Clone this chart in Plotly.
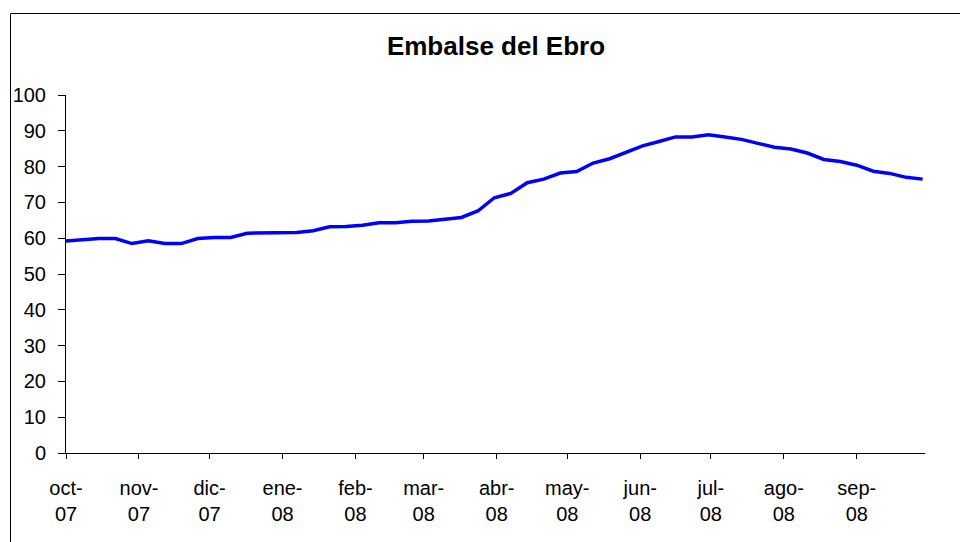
import plotly.graph_objects as go
import pandas as pd

title_text = "Embalse del Ebro"

# weekly observation dates (Oct 2007 - Sep 2008)
week_dates = pd.date_range("2007-10-01", periods=53, freq="7D")

reservoir_pct = [
    59.2, 59.5, 59.9, 59.9, 58.5, 59.3, 58.5, 58.5, 59.9, 60.2,
    60.2, 61.4, 61.4, 61.4, 61.6, 62.1, 63.2, 63.3, 63.6, 64.3,
    64.3, 64.7, 64.8, 65.3, 65.8, 67.6, 71.3, 72.5, 75.5, 76.5,
    78.2, 78.6, 81.0, 82.2, 83.9, 85.8, 87.0, 88.3, 88.3, 88.9,
    88.3, 87.6, 86.5, 85.4, 84.9, 83.8, 82.0, 81.4, 80.4, 78.7,
    78.1, 77.0, 76.5,
]

month_ticks = ["2007-10-01", "2007-11-01", "2007-12-01", "2008-01-01",
               "2008-02-01", "2008-03-01", "2008-04-01", "2008-05-01",
               "2008-06-01", "2008-07-01", "2008-08-01", "2008-09-01"]
month_labels = ["oct-<br>07", "nov-<br>07", "dic-<br>07", "ene-<br>08",
                "feb-<br>08", "mar-<br>08", "abr-<br>08", "may-<br>08",
                "jun-<br>08", "jul-<br>08", "ago-<br>08", "sep-<br>08"]

# page has an 8px body margin, so figure coordinates = screen - 8
OFF = 8
W, H = 968, 542
ml, mr, mt, mb = 66 - OFF, 968 - (925 - OFF), 95 - OFF, H - (453 - OFF)
pw, ph = W - ml - mr, H - mt - mb

def px_x(p):  # screen px -> paper
    return (p - OFF - ml) / pw

def px_y(p):
    return (H - mb - (p - OFF)) / ph

fig = go.Figure()
fig.add_trace(go.Scatter(
    x=week_dates, y=reservoir_pct, mode="lines",
    line=dict(color="#0000FF", width=3.5),
    showlegend=False, hoverinfo="x+y",
))

font_family = "Liberation Sans, Arial, sans-serif"

fig.update_layout(
    width=W, height=H,
    margin=dict(l=ml, r=mr, t=mt, b=mb, autoexpand=False),
    paper_bgcolor="white", plot_bgcolor="white",
    font=dict(family=font_family, size=20, color="black"),
    title=dict(text="<b>" + title_text + "</b>", x=(496 - OFF) / W,
               xref="container", y=1 - (46 - OFF) / H, yref="container",
               yanchor="middle", xanchor="center",
               font=dict(size=26, family=font_family, color="black")),
    xaxis=dict(
        type="date", range=["2007-10-01", "2008-09-30"],
        tickvals=month_ticks, ticktext=month_labels,
        showline=True, linecolor="black", linewidth=1,
        ticks="outside", ticklen=5, tickcolor="black",
        showgrid=False, zeroline=False, automargin=False,
        tickfont=dict(size=20), ticklabelstandoff=12,
    ),
    yaxis=dict(
        range=[0, 100], dtick=10, tick0=0,
        showline=True, linecolor="black", linewidth=1,
        ticks="outside", ticklen=7, tickcolor="black",
        showgrid=False, zeroline=False, automargin=False,
        tickfont=dict(size=20), ticklabelstandoff=8,
    ),
    shapes=[dict(type="rect", xref="paper", yref="paper",
                 x0=px_x(10.5), x1=px_x(990), y0=px_y(570), y1=px_y(13.5),
                 line=dict(color="black", width=1), fillcolor="rgba(0,0,0,0)",
                 layer="below")],
)

fig.write_html("out.html")
